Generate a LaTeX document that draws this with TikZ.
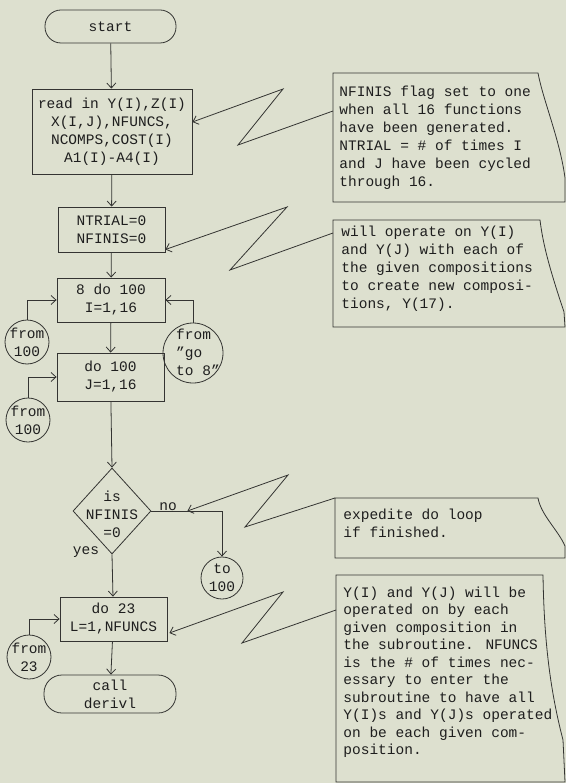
\documentclass[tikz,border=0pt]{standalone}
\usepackage{fontspec}
\setmainfont{Liberation Mono}
\usetikzlibrary{shapes.geometric,arrows.meta,calc}
\definecolor{paper}{RGB}{221,224,207}
\definecolor{ink}{RGB}{52,52,50}
\definecolor{typeink}{RGB}{30,30,30}
\newcommand{\sq}{\symbol{34}}
\begin{document}
\begin{tikzpicture}[x=1pt,y=-1pt,
  font=\fontsize{14.5}{18}\selectfont, color=ink, text=typeink, line width=0.8pt,
  box/.style={draw, rectangle, inner sep=0pt, align=center},
  term/.style={draw, rectangle, rounded corners=16pt, inner sep=0pt, align=center},
  conn/.style={-{Straight Barb[length=5pt,width=9pt]}},
  circ/.style={draw, circle, inner sep=0pt},
  lbl/.style={align=center, inner sep=0pt},
  note/.style={align=left, inner sep=0pt, anchor=west},
  frame/.style={draw, line width=0.8pt}]
\fill[paper] (0,0) rectangle (566,783);
\useasboundingbox (0,0) rectangle (566,783);

% flowchart
\node[term, minimum width=131pt, minimum height=33pt] (start) at (110.5,26.5) {start};
\node[box, minimum width=160pt, minimum height=85pt] (read) at (112,131.5) {read in Y(I),Z(I)\\X(I,J),NFUNCS,\\NCOMPS,COST(I)\\A1(I)-A4(I)};
\node[box, minimum width=107pt, minimum height=45pt] (ntrial) at (111.5,229.5) {NTRIAL=0\\NFINIS=0};
\node[box, minimum width=108pt, minimum height=44pt] (do8) at (111,300) {8 do 100\\I=1,16};
\node[box, minimum width=107pt, minimum height=48pt] (doj) at (110.5,377) {do 100\\J=1,16};
\node[draw, diamond, inner sep=0pt, minimum width=78pt, minimum height=86pt] (dec) at (112,511) {};
\node[lbl] (dectext) at (112,514) {is\\NFINIS\\=0};
\node[box, minimum width=107pt, minimum height=44pt] (do23) at (113.5,619) {do 23\\L=1,NFUNCS};
\node[term, rounded corners=18pt, minimum width=132pt, minimum height=38pt] (call) at (110,694) {call\\derivl};

% connector circles
\node[circ, minimum size=44pt] (f100a) at (27,342) {};
\node[lbl] (f100atext) at (27,342) {from\\100};
\node[circ, minimum size=60pt] (goto8) at (193,353) {};
\node[lbl, align=left] (goto8text) at (198,352) {from\\\sq go\\to 8\sq};
\node[circ, minimum size=44pt] (f100b) at (28,420) {};
\node[lbl] (f100btext) at (28,420) {from\\100};
\node[circ, minimum size=42pt] (to100) at (222,578) {};
\node[lbl] (to100text) at (222,578) {to\\100};
\node[circ, minimum size=44pt] (f23) at (29,657) {};
\node[lbl] (f23text) at (29,657) {from\\23};

\node[lbl] (yes) at (86,552) {yes};
\node[lbl] (no) at (168,507) {no};

% main flow
\draw[conn] (start) -- (read);
\draw[conn] (read) -- (ntrial);
\draw[conn] (ntrial) -- (do8);
\draw[conn] (do8) -- (doj);
\draw[conn] (doj) -- (dec.north);
\draw[conn] (dec.south) -- (do23);
\draw[conn] (do23) -- (call);
\draw[conn] (f100a.north) |- (do8.west);
\draw[conn] (goto8.north) |- (do8.east);
\draw[conn] (f100b.north) |- (doj.west);
\draw[conn] (dec.east) -| (to100.north);
\draw[conn] (f23.north) |- (do23.west);

% annotation frames
\draw[frame] (333,202) -- (333,73) -- (538,73) .. controls (543,100) and (560,140) .. (565,178) -- (565,202) -- cycle;
\draw[frame] (333,327) -- (333,220) -- (540,220) .. controls (543,245) and (550,270) .. (564,312) -- (565,327) -- cycle;
\draw[frame] (335,558) -- (335,498) -- (538,498) .. controls (541,515) and (558,530) .. (565,546) -- (565,558) -- cycle;
\draw[frame] (336,782) -- (336,575) -- (543,575) .. controls (544,640) and (550,690) .. (563,740) -- (565,782) -- cycle;

\node[note] (note1) at (339,138) {NFINIS flag set to one\\when all 16 functions\\have been generated.\\NTRIAL = \# of times I\\and J have been cycled\\through 16.};
\node[note] (note2) at (341,269) {will operate on Y(I)\\and Y(J) with each of\\the given compositions\\to create new composi-\\tions, Y(17).};
\node[note] (note3) at (343,523.5) {expedite do loop\\if finished.};
\node[note, font=\fontsize{14.5}{17.5}\selectfont] (note4) at (343,672) {Y(I) and Y(J) will be\\operated on by each\\given composition in\\the subroutine. NFUNCS\\is the \# of times nec-\\essary to enter the\\subroutine to have all\\Y(I)s and Y(J)s operated\\on be each given com-\\position.};

% zigzag connectors
\coordinate (z1a) at (333,111);
\coordinate (z1b) at (238,145);
\coordinate (z1c) at (283,89);
\draw[conn] (z1a) -- (z1b) -- (z1c) -- ([yshift=9.5pt]read.east);
\coordinate (z2a) at (333,233);
\coordinate (z2b) at (230,270);
\coordinate (z2c) at (287,207);
\draw[conn] (z2a) -- (z2b) -- (z2c) -- ([yshift=-20pt]ntrial.east);
\coordinate (z3a) at (335,498);
\coordinate (z3b) at (245,527);
\coordinate (z3c) at (288,475);
\coordinate (nopt) at ([xshift=36pt]dec.east);
\draw[conn] (z3a) -- (z3b) -- (z3c) -- (nopt);
\coordinate (z4a) at (336,610);
\coordinate (z4b) at (242,643);
\coordinate (z4c) at (283,592);
\draw[conn] (z4a) -- (z4b) -- (z4c) -- ([yshift=-14pt,xshift=2pt]do23.east);
\end{tikzpicture}
\end{document}
